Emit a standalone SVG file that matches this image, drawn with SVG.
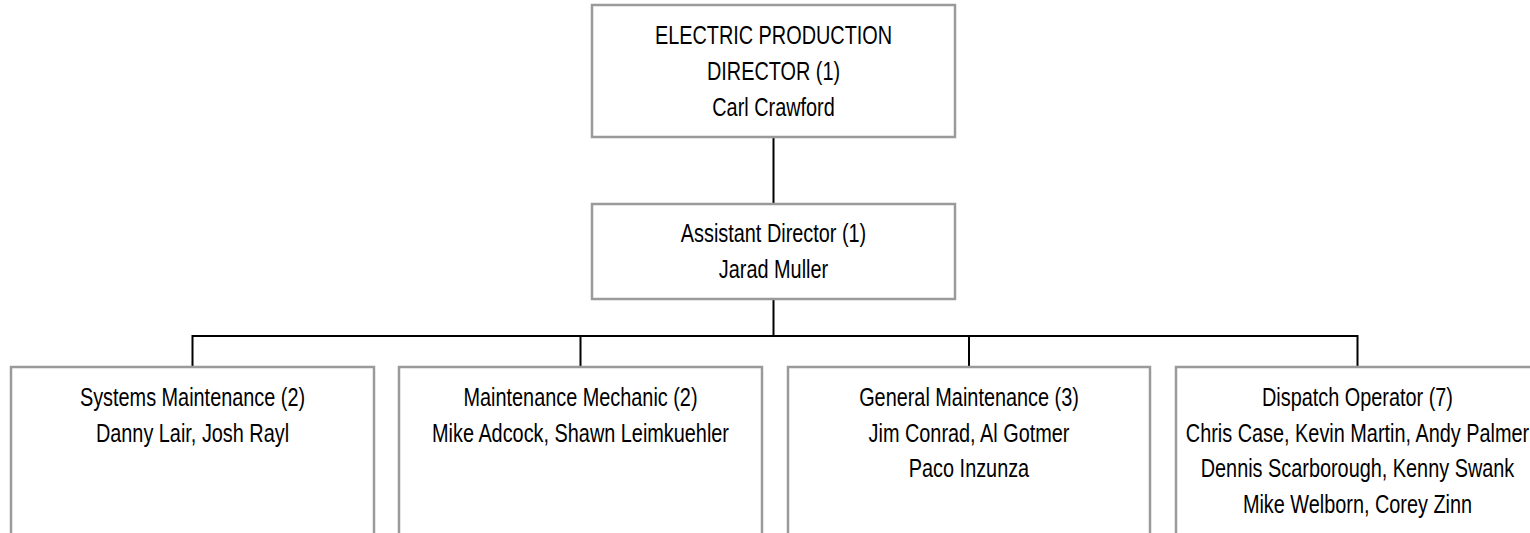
<svg xmlns="http://www.w3.org/2000/svg" width="1530" height="533" viewBox="0 0 1530 533">
<style>
.box{fill:#fff;stroke:#9a9a9a;stroke-width:2.5}
.con{fill:none;stroke:#000;stroke-width:2}
.t{font-family:"Liberation Sans",Arial,sans-serif;font-size:26.5px;fill:#000;text-anchor:middle}
</style>
<rect width="1530" height="533" fill="#fff"/>
<g id="connectors">
<path class="con" d="M773.5 137V204M773.5 299V336M192.5 336H1357.5M192.5 335V367M580.5 335V367M969 335V367M1357.5 335V367"/>
</g>
<g id="director">
<rect class="box" x="592" y="5" width="363" height="132"/>
<text class="t" transform="translate(773.5 0) scale(0.75 1)"><tspan x="0" y="44">ELECTRIC PRODUCTION</tspan><tspan x="0" y="80">DIRECTOR (1)</tspan><tspan x="0" y="116">Carl Crawford</tspan></text>
</g>
<g id="assistant">
<rect class="box" x="592" y="204" width="363" height="95"/>
<text class="t" transform="translate(773.5 0) scale(0.75 1)"><tspan x="0" y="242">Assistant Director (1)</tspan><tspan x="0" y="278">Jarad Muller</tspan></text>
</g>
<g id="systems">
<rect class="box" x="11" y="367" width="363" height="200"/>
<text class="t" transform="translate(192.5 0) scale(0.75 1)"><tspan x="0" y="406">Systems Maintenance (2)</tspan><tspan x="0" y="442">Danny Lair, Josh Rayl</tspan></text>
</g>
<g id="mechanic">
<rect class="box" x="399" y="367" width="363" height="200"/>
<text class="t" transform="translate(580.5 0) scale(0.75 1)"><tspan x="0" y="406">Maintenance Mechanic (2)</tspan><tspan x="0" y="442">Mike Adcock, Shawn Leimkuehler</tspan></text>
</g>
<g id="general">
<rect class="box" x="788" y="367" width="362" height="200"/>
<text class="t" transform="translate(969 0) scale(0.75 1)"><tspan x="0" y="406">General Maintenance (3)</tspan><tspan x="0" y="442">Jim Conrad, Al Gotmer</tspan><tspan x="0" y="477">Paco Inzunza</tspan></text>
</g>
<g id="dispatch">
<rect class="box" x="1176" y="367" width="363" height="200"/>
<text class="t" transform="translate(1357.5 0) scale(0.75 1)"><tspan x="0" y="406">Dispatch Operator (7)</tspan><tspan x="0" y="442">Chris Case, Kevin Martin, Andy Palmer</tspan><tspan x="0" y="477">Dennis Scarborough, Kenny Swank</tspan><tspan x="0" y="513">Mike Welborn, Corey Zinn</tspan></text>
</g>
</svg>
